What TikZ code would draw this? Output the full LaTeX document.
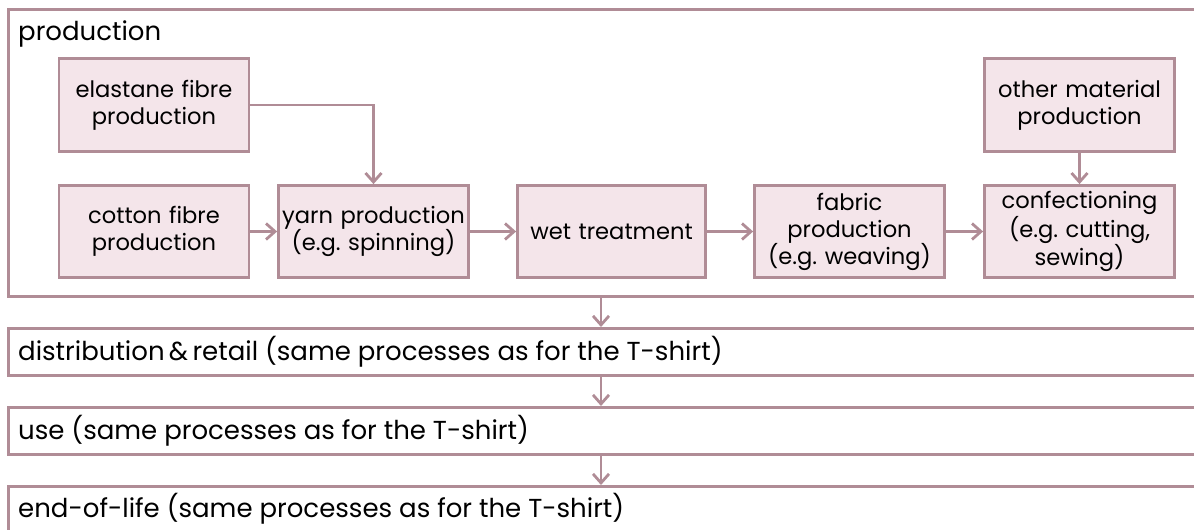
\documentclass[tikz,border=0pt]{standalone}
\usepackage{fontspec}
\setmainfont{Poppins}
\usetikzlibrary{arrows.meta}
\definecolor{lineC}{RGB}{176,140,150}
\definecolor{fillC}{RGB}{244,229,234}
\frenchspacing
\begin{document}
\begin{tikzpicture}[x=1pt,y=-1pt,
  every node/.style={inner sep=0pt},
  procbox/.style={draw=lineC, fill=fillC, line width=2.8pt, align=center, minimum width=190pt, text width=188pt, font=\fontsize{22.6}{27}\selectfont},
  lanebox/.style={draw=lineC, line width=2.8pt, anchor=north west, minimum width=1210pt},
  lanetext/.style={anchor=west, font=\fontsize{26}{30}\selectfont},
  flow/.style={draw=lineC, line width=2.8pt, -{Straight Barb[length=9pt,width=16pt,line width=2.8pt]}}
]
\useasboundingbox (0,0) rectangle (1194,530);
% lanes
\node[lanebox, minimum height=287pt] (prod) at (7,8) {};
\node[lanebox, minimum height=47pt] (dist) at (7,327) {};
\node[lanebox, minimum height=47pt] (use) at (7,406) {};
\node[lanebox, minimum height=70pt] (eol) at (7,485) {};
\node[lanetext] (prodT) at (18,34) {production};
\node[lanetext] (distT) at (18,352) {distribution\,\&\,retail (same processes as for the T-shirt)};
\node[lanetext] (useT) at (18,431) {use (same processes as for the T-shirt)};
\node[lanetext] (eolT) at (18,509) {end-of-life (same processes as for the T-shirt)};
% process boxes
\node[procbox, minimum height=93pt] (el) at (154,105) {elastane fibre\\production};
\node[procbox, minimum height=93pt] (oth) at (1079.5,105) {other material\\production};
\node[procbox, minimum height=92pt] (cot) at (154,231.5) {cotton fibre\\production};
\node[procbox, minimum height=92pt] (yarn) at (373.5,231.5) {yarn production\\(e.g. spinning)};
\node[procbox, minimum height=92pt, minimum width=188pt] (wet) at (611.5,231.5) {wet treatment};
\node[procbox, minimum height=92pt] (fab) at (849.5,231.5) {fabric\\production\\(e.g. weaving)};
\node[procbox, minimum height=92pt] (conf) at (1079.5,231.5) {confectioning\\(e.g. cutting,\\sewing)};
% connectors
\coordinate (ax) at (601,0);
\draw[flow] (el.east) -| (yarn.north);
\draw[flow] (cot.east) -- (yarn.west);
\draw[flow] (yarn.east) -- (wet.west);
\draw[flow] (wet.east) -- (fab.west);
\draw[flow] (fab.east) -- (conf.west);
\draw[flow] (oth.south) -- (conf.north);
\draw[flow] (prod.south -| ax) -- (dist.north -| ax);
\draw[flow] (dist.south -| ax) -- (use.north -| ax);
\draw[flow] (use.south -| ax) -- (eol.north -| ax);
\end{tikzpicture}
\end{document}
